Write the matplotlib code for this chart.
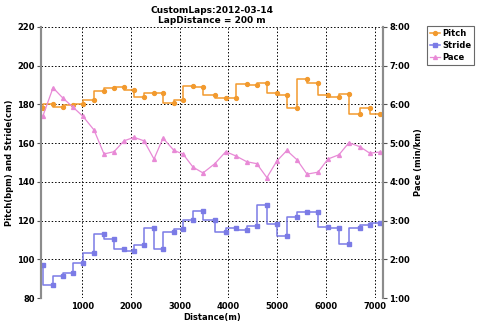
import matplotlib
matplotlib.use("Agg")
import matplotlib.pyplot as plt
from matplotlib.ticker import FixedLocator, FuncFormatter

# lap end positions (m)
distance = [193, 399, 604, 809, 1014, 1240, 1445, 1651, 1856, 2061, 2266, 2471,
            2656, 2882, 3066, 3272, 3477, 3719, 3945, 4150, 4375, 4580, 4788, 4993,
            5198, 5406, 5611, 5837, 6042, 6267, 6471, 6695, 6900, 7105]

# cadence (bpm)
pitch = [178.0, 180.1, 178.9, 179.8, 180.1, 182.3, 187.1, 188.4, 189.2, 187.3, 183.7, 185.9,
         185.8, 180.9, 182.3, 189.7, 189.2, 184.9, 183.2, 183.2, 190.8, 190.1, 190.9, 185.8,
         184.9, 178.0, 193.2, 190.9, 184.9, 183.7, 185.3, 175.1, 178.0, 175.0]

# stride length (cm)
stride = [97.2, 86.5, 91.2, 93.1, 98.2, 103.0, 113.0, 110.4, 105.4, 104.1, 107.2, 116.1,
          105.3, 114.1, 115.8, 120.1, 125.1, 120.1, 114.1, 116.1, 115.3, 117.0, 128.2, 118.2,
          111.8, 121.8, 124.2, 124.2, 116.6, 116.1, 108.0, 116.1, 117.8, 119.0]

# pace (min/km)
pace = [5.71, 6.43, 6.16, 5.93, 5.69, 5.34, 4.72, 4.78, 5.06, 5.15, 5.06, 4.59,
        5.13, 4.81, 4.72, 4.38, 4.23, 4.47, 4.78, 4.67, 4.52, 4.47, 4.11, 4.54,
        4.81, 4.57, 4.20, 4.25, 4.59, 4.70, 5.01, 4.91, 4.74, 4.77]

x_ticks = [1000, 2000, 3000, 4000, 5000, 6000, 7000]
left_ticks = [80, 100, 120, 140, 160, 180, 200, 220]
pace_ticks = [1, 2, 3, 4, 5, 6, 7, 8]

c_pitch = "#f29a2e"
c_stride = "#7b7be6"
c_pace = "#e88ad6"
spine_col = "#8c8c8c"

plt.rcParams["font.family"] = "DejaVu Sans"
plt.rcParams["font.size"] = 6

fig = plt.figure(figsize=(4.8, 3.29), dpi=100)
ax = fig.add_axes([41 / 480, 1 - 298 / 329, (383 - 41) / 480, (298 - 27) / 329])
ax2 = ax.twinx()

l1, = ax.step(distance, pitch, where="pre", color=c_pitch, lw=1.1,
              marker="o", ms=2.8, label="Pitch")
l2, = ax.step(distance, stride, where="pre", color=c_stride, lw=1.1,
              marker="s", ms=3.3, label="Stride")
l3, = ax2.plot(distance, pace, color=c_pace, lw=0.9,
               marker="^", ms=2.8, label="Pace")

ax.set_xlim(152, 7171)
ax.set_ylim(80, 220)
ax2.set_ylim(1, 8)

ax.xaxis.set_major_locator(FixedLocator(x_ticks))
ax.yaxis.set_major_locator(FixedLocator(left_ticks))
ax2.yaxis.set_major_locator(FixedLocator(pace_ticks))
ax2.yaxis.set_major_formatter(FuncFormatter(lambda v, p: "%d:00" % v))

ax.grid(True, color="black", linestyle=(0, (1.5, 2)), lw=0.7)
ax.set_axisbelow(True)

for a in (ax, ax2):
    a.spines["top"].set_visible(False)
    a.spines["bottom"].set_visible(False)
    a.spines["left"].set_color(spine_col)
    a.spines["right"].set_color(spine_col)
    a.spines["left"].set_linewidth(1.5)
    a.spines["right"].set_linewidth(1.5)
    a.tick_params(length=3, width=0.8, pad=1.5, color="#555555")
    for lab in a.get_xticklabels() + a.get_yticklabels():
        lab.set_fontweight("bold")
ax.tick_params(axis="x", length=0, pad=3)

ax.set_xlabel("Distance(m)", fontweight="bold", labelpad=1)
ax.set_ylabel("Pitch(bpm) and Stride(cm)", fontweight="bold", labelpad=2)
ax2.set_ylabel("Pace (min/km)", fontweight="bold", labelpad=3)
ax.set_title("CustomLaps:2012-03-14\nLapDistance = 200 m", fontsize=6.5,
             fontweight="bold", pad=3, linespacing=1.1)

leg = fig.legend(handles=[l1, l2, l3], loc="upper left",
                 bbox_to_anchor=(427 / 480, 1 - 26 / 329),
                 prop={"weight": "bold", "size": 6}, frameon=True,
                 fancybox=False, handlelength=1.2, handletextpad=0.3,
                 borderpad=0.35, labelspacing=0.35, borderaxespad=0)
leg.get_frame().set_edgecolor("#444444")
leg.get_frame().set_linewidth(0.8)

fig.savefig("out.png", dpi=100)
